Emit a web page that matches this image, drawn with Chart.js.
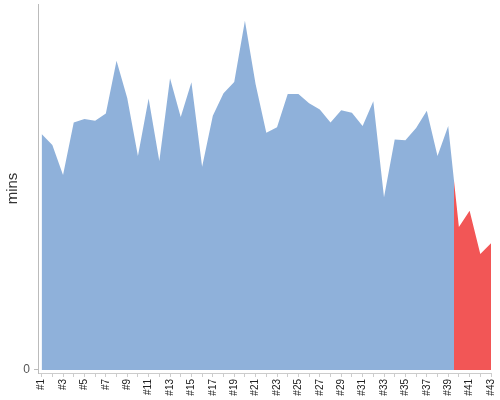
<!DOCTYPE html>
<html>
<head>
<meta charset="utf-8">
<script src="https://cdn.jsdelivr.net/npm/chart.js@4.4.1/dist/chart.umd.min.js"></script>
<style>
  html, body { margin: 0; padding: 0; background: #fff; }
  #wrap { width: 500px; height: 400px; }
</style>
</head>
<body>
<div id="wrap"><canvas id="c" width="500" height="400"></canvas></div>
<script>
// Categories (runs #1..#43)
const categories = ['#1','#2','#3','#4','#5','#6','#7','#8','#9','#10','#11','#12','#13','#14','#15','#16','#17','#18','#19','#20','#21','#22','#23','#24','#25','#26','#27','#28','#29','#30','#31','#32','#33','#34','#35','#36','#37','#38','#39','#40','#41','#42','#43'];
// Duration in minutes
const minutes = [64.5, 61.5, 53.3, 67.6, 68.6, 68.1, 70.1, 84.5, 74.3, 58.5,
                 74.2, 57.1, 79.7, 69.1, 78.6, 55.5, 69.5, 75.6, 78.7, 95.4,
                 78.1, 64.8, 66.3, 75.4, 75.4, 72.9, 71.2, 67.6, 71.0, 70.3,
                 66.7, 73.4, 47.2, 63.0, 62.8, 66.1, 70.8, 58.5, 66.7, 39.1,
                 43.5, 31.7, 34.6];
// Last category drawn in blue; the rest are highlighted in red
const lastNormal = '#39';
const yTickValues = [0];
const yAxisTitle = 'mins';

const BLUE = '#8fb1da';
const RED = '#f25656';
const splitIdx = categories.indexOf(lastNormal) + 1; // 1-based x value

function fillColor(ctx) {
  const chart = ctx.chart;
  const area = chart.chartArea;
  if (!area) return BLUE;
  const xs = chart.scales.x;
  const xm = (xs.getPixelForValue(splitIdx) + xs.getPixelForValue(splitIdx + 1)) / 2;
  const t = Math.min(1, Math.max(0, (xm - area.left) / (area.right - area.left)));
  const g = chart.ctx.createLinearGradient(area.left, 0, area.right, 0);
  g.addColorStop(0, BLUE);
  g.addColorStop(t, BLUE);
  g.addColorStop(t, RED);
  g.addColorStop(1, RED);
  return g;
}

new Chart(document.getElementById('c'), {
  type: 'line',
  data: {
    datasets: [{
      data: minutes.map((v, i) => ({ x: i + 1, y: v })),
      fill: 'origin',
      backgroundColor: fillColor,
      borderWidth: 0,
      borderColor: 'rgba(0,0,0,0)',
      pointRadius: 0,
      tension: 0
    }]
  },
  options: {
    responsive: false,
    animation: false,
    events: [],
    layout: { padding: { top: 4, right: 9, left: 0, bottom: 0 } },
    plugins: { legend: { display: false }, tooltip: { enabled: false } },
    scales: {
      x: {
        type: 'linear',
        min: 0.66,
        max: categories.length,
        afterBuildTicks: s => { s.ticks = categories.map((_, i) => ({ value: i + 1 })); },
        afterFit: s => { s.height = 27; s.paddingLeft = 0; s.paddingRight = 0; },
        grid: { drawOnChartArea: false, drawTicks: true, tickLength: 4, color: '#cccccc' },
        border: { display: true, color: '#cccccc', width: 1 },
        ticks: {
          autoSkip: false,
          minRotation: 90,
          maxRotation: 90,
          padding: 2,
          color: '#222222',
          font: { family: 'Liberation Sans, Arial, sans-serif', size: 10 },
          callback: v => ((v - 1) % 2 === 0 ? categories[v - 1] : '')
        }
      },
      y: {
        min: -0.82,
        max: 100,
        afterBuildTicks: s => { s.ticks = yTickValues.map(v => ({ value: v })); },
        afterFit: s => { s.width = 38; s.paddingTop = 0; s.paddingBottom = 0; },
        grid: { drawOnChartArea: false, drawTicks: true, tickLength: 4, color: '#bbbbbb' },
        border: { display: true, color: '#bbbbbb', width: 1 },
        ticks: {
          padding: 4,
          color: '#555555',
          font: { family: 'Liberation Sans, Arial, sans-serif', size: 12 }
        },
        title: {
          display: true,
          text: yAxisTitle,
          color: '#333333',
          padding: { top: 4, bottom: 0 },
          font: { family: 'Liberation Sans, Arial, sans-serif', size: 15 }
        }
      }
    }
  }
});
</script>
</body>
</html>
